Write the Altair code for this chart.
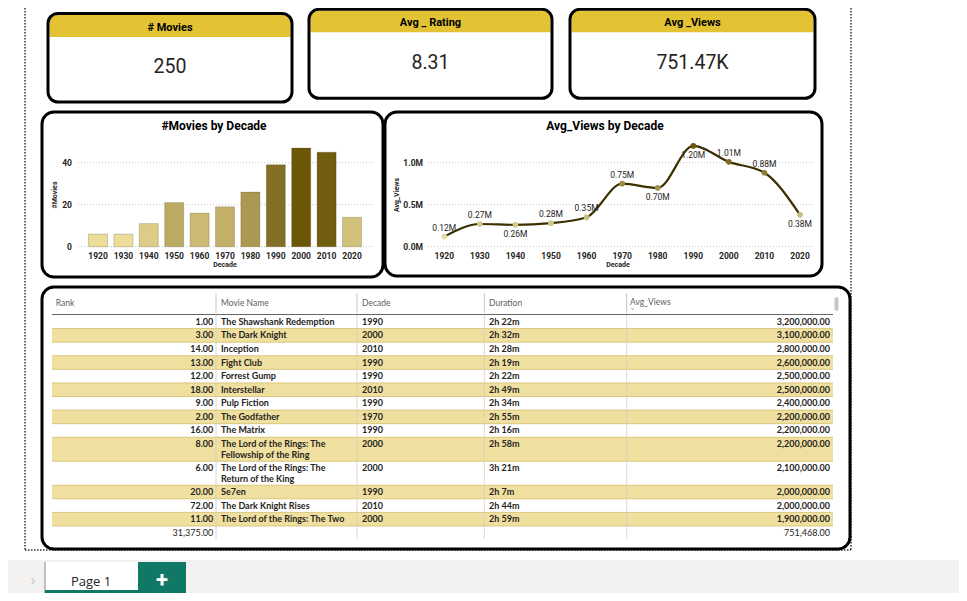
import textwrap
import altair as alt
import pandas as pd

# ---------------- data ----------------
decades = [1920, 1930, 1940, 1950, 1960, 1970, 1980, 1990, 2000, 2010, 2020]
movies_per_decade = [6, 6, 11, 21, 16, 19, 26, 39, 47, 45, 14]
avg_views_per_decade = [120000, 270000, 260000, 280000, 350000, 750000,
                        700000, 1200000, 1010000, 880000, 380000]
movies_ticks = [0, 20, 40]
views_ticks = [0, 500000, 1000000]
labels_below = [1940, 1980, 1990, 2020]

avg_rating = 8.31
total_rank_sum = 31375
overall_avg_views = 751468

table_rank = [1, 3, 14, 13, 12, 18, 9, 2, 16, 8, 6, 20, 72, 11]
table_name = ["The Shawshank Redemption", "The Dark Knight", "Inception", "Fight Club",
              "Forrest Gump", "Interstellar", "Pulp Fiction", "The Godfather", "The Matrix",
              "The Lord of the Rings: The Fellowship of the Ring",
              "The Lord of the Rings: The Return of the King",
              "Se7en", "The Dark Knight Rises", "The Lord of the Rings: The Two"]
table_decade = [1990, 2000, 2010, 1990, 1990, 2010, 1990, 1970, 1990, 2000, 2000, 1990, 2010, 2000]
table_duration = ["2h 22m", "2h 32m", "2h 28m", "2h 19m", "2h 22m", "2h 49m", "2h 34m",
                  "2h 55m", "2h 16m", "2h 58m", "3h 21m", "2h 7m", "2h 44m", "2h 59m"]
table_views = [3200000, 3100000, 2800000, 2600000, 2500000, 2500000, 2400000,
               2200000, 2200000, 2200000, 2100000, 2000000, 2000000, 1900000]

# ---------------- styles ----------------
F_DIN = "Roboto"
F_TAB = "Lato"
GOLD = "#E3C334"
INK = "#252423"
dummy = pd.DataFrame({"d": [0]})


def box(x, x2, y, y2, **kw):
    return alt.Chart(dummy).mark_rect(**kw).encode(
        x=alt.value(x), x2=alt.value(x2), y=alt.value(y), y2=alt.value(y2))


def label(x, y, text, **kw):
    return alt.Chart(dummy).mark_text(text=text, **kw).encode(x=alt.value(x), y=alt.value(y))


def hline(x, x2, y, **kw):
    return alt.Chart(dummy).mark_rule(**kw).encode(x=alt.value(x), x2=alt.value(x2), y=alt.value(y))


def vline(x, y, y2, **kw):
    return alt.Chart(dummy).mark_rule(**kw).encode(x=alt.value(x), y=alt.value(y), y2=alt.value(y2))


layers = []

# page dotted border
dot = dict(color="#333333", strokeWidth=1.5, strokeDash=[1.5, 1.5])
layers += [vline(17, 0, 542, **dot), vline(843, 0, 542, **dot), hline(17, 843, 542, **dot)]

# ---------------- KPI cards ----------------
cards = [
    (40, 284, 5.5, 94, 29, "# Movies", str(sum(movies_per_decade)), 19.5, 59),
    (301, 544, 1.3, 90.3, 24.3, "Avg _ Rating", f"{avg_rating:.2f}", 15.3, 54.7),
    (562, 807, 1.3, 90.3, 24.3, "Avg _Views", f"{overall_avg_views / 1000:.2f}K", 15.3, 54.7),
]
for x0, x1, y0, y1, yb, title, value, ty, vy in cards:
    cx = (x0 + x1) / 2
    layers.append(box(x0 + 1.5, x1 - 1.5, y0 + 1.5, yb, color=GOLD,
                      cornerRadiusTopLeft=8, cornerRadiusTopRight=8))
    layers.append(box(x0, x1, y0, y1, fillOpacity=0, stroke="black", strokeWidth=3, cornerRadius=10))
    layers.append(label(cx, ty, title, font=F_DIN, fontSize=11, fontWeight="bold", color="black",
                        baseline="middle"))
    layers.append(label(cx, vy, value, font=F_DIN, fontSize=19.5, color=INK, baseline="middle"))

# ---------------- panels ----------------
panel = dict(fillOpacity=0, stroke="black", strokeWidth=3, cornerRadius=12)
layers += [box(34, 375, 104, 269, **panel), box(377, 814, 104, 268, **panel),
           box(34, 842, 279, 541, **panel)]

tick_style = dict(font=F_DIN, fontSize=8.5, fontWeight="bold", color=INK)
atitle_style = dict(font=F_DIN, fontSize=7, fontWeight="bold", color=INK)
grid_style = dict(color="#C8C6C4", strokeDash=[1, 2], strokeWidth=1)

# ---------------- bar chart ----------------
bar_df = pd.DataFrame({"decade": decades, "movies": movies_per_decade})
bar_ticks = pd.DataFrame({"v": movies_ticks})
xbar = alt.Scale(type="band", range=[77.3, 356.7], paddingInner=0.25, paddingOuter=0.125)
ybar = alt.Scale(domain=[0, 40], range=[238.7, 154.7], nice=False)

bar_grid = alt.Chart(bar_ticks).mark_rule(**grid_style).encode(
    y=alt.Y("v:Q", scale=ybar, axis=None), x=alt.value(70), x2=alt.value(367))
bar_ylab = alt.Chart(bar_ticks).mark_text(align="right", baseline="middle", **tick_style).encode(
    y=alt.Y("v:Q", scale=ybar, axis=None), x=alt.value(64), text="v:Q")
bars = alt.Chart(bar_df).mark_bar(stroke="#3d3200", strokeWidth=0.6, strokeOpacity=0.35).encode(
    x=alt.X("decade:O", scale=xbar, axis=None),
    y=alt.Y("movies:Q", scale=ybar, axis=None),
    color=alt.Color("movies:Q", legend=None,
                    scale=alt.Scale(domain=[min(movies_per_decade), max(movies_per_decade)],
                                    range=["#ECDD98", "#6B5707"])))
bar_xlab = alt.Chart(bar_df).mark_text(baseline="middle", **tick_style).encode(
    x=alt.X("decade:O", scale=xbar, axis=None), y=alt.value(247.7), text="decade:O")
layers.append(alt.layer(bar_grid, bar_ylab, bars, bar_xlab))
layers.append(label(206, 118, "#Movies by Decade", font=F_DIN, fontSize=12, fontWeight="bold",
                    color="black", baseline="middle"))
layers.append(label(217, 257.3, "Decade", baseline="middle", **atitle_style))
layers.append(label(47, 187, "#Movies", angle=270, baseline="middle", **atitle_style))

# ---------------- line chart ----------------
line_df = pd.DataFrame({"decade": decades, "views": avg_views_per_decade})
line_df["below"] = line_df["decade"].isin(labels_below)
view_ticks = pd.DataFrame({"v": views_ticks})
xline = alt.Scale(type="point", range=[436.3, 792], padding=0)
yline = alt.Scale(domain=[0, 1000000], range=[238.7, 154.7], nice=False)

line_grid = alt.Chart(view_ticks).mark_rule(**grid_style).encode(
    y=alt.Y("v:Q", scale=yline, axis=None), x=alt.value(420), x2=alt.value(807))
line_ylab = alt.Chart(view_ticks).transform_calculate(
    lab="format(datum.v / 1000000, '.1f') + 'M'").mark_text(
    align="right", baseline="middle", **tick_style).encode(
    y=alt.Y("v:Q", scale=yline, axis=None), x=alt.value(415), text="lab:N")
line = alt.Chart(line_df).mark_line(color="#3A3000", strokeWidth=2.2, interpolate="monotone").encode(
    x=alt.X("decade:O", scale=xline, axis=None), y=alt.Y("views:Q", scale=yline, axis=None))
pts = alt.Chart(line_df).mark_point(filled=True, size=32, opacity=1).encode(
    x=alt.X("decade:O", scale=xline, axis=None), y=alt.Y("views:Q", scale=yline, axis=None),
    color=alt.Color("views:Q", legend=None,
                    scale=alt.Scale(domain=[min(avg_views_per_decade), max(avg_views_per_decade)],
                                    range=["#E6DC9E", "#6B5707"])))
lab_base = alt.Chart(line_df).transform_calculate(
    lab="format(datum.views / 1000000, '.2f') + 'M'")
lab_above = lab_base.transform_filter("!datum.below").mark_text(
    dy=-9, baseline="middle", font=F_DIN, fontSize=8.5, color=INK).encode(
    x=alt.X("decade:O", scale=xline, axis=None), y=alt.Y("views:Q", scale=yline, axis=None),
    text="lab:N")
lab_below = lab_base.transform_filter("datum.below").mark_text(
    dy=9, baseline="middle", font=F_DIN, fontSize=8.5, color=INK).encode(
    x=alt.X("decade:O", scale=xline, axis=None), y=alt.Y("views:Q", scale=yline, axis=None),
    text="lab:N")
line_xlab = alt.Chart(line_df).mark_text(baseline="middle", **tick_style).encode(
    x=alt.X("decade:O", scale=xline, axis=None), y=alt.value(247.7), text="decade:O")
layers.append(alt.layer(line_grid, line_ylab, line, pts, lab_above, lab_below, line_xlab))
layers.append(label(597, 118, "Avg_Views by Decade", font=F_DIN, fontSize=12, fontWeight="bold",
                    color="black", baseline="middle"))
layers.append(label(610, 257.3, "Decade", baseline="middle", **atitle_style))
layers.append(label(388.7, 187, "Avg_Views", angle=270, baseline="middle", **atitle_style))

# ---------------- table ----------------
LINE_STEP = 0.81
wrapped = [textwrap.wrap(n, 30) for n in table_name]
heights = [1 + 0.765 * (len(w) - 1) for w in wrapped]
tops = []
acc = 0.0
for h in heights:
    tops.append(acc)
    acc += h
total_units = acc
rows = pd.DataFrame({
    "rank": table_rank, "decade": [str(d) for d in table_decade], "duration": table_duration,
    "views": table_views, "top": tops,
    "bottom": [t + h for t, h in zip(tops, heights)],
    "mid": [t + 0.5 for t in tops],
    "stripe": [i % 2 == 1 for i in range(len(table_rank))],
})
name_lines = pd.DataFrame([
    {"line": s, "y": tops[i] + 0.5 + LINE_STEP * j}
    for i, w in enumerate(wrapped) for j, s in enumerate(w)
])
totals = pd.DataFrame({"rank": [total_rank_sum], "views": [overall_avg_views],
                       "mid": [total_units + 0.5]})
ytab = alt.Scale(domain=[0, total_units], range=[307, 518], nice=False)
body = dict(font=F_TAB, fontSize=9, fontWeight="bold", color=INK, baseline="middle")

stripes = alt.Chart(rows).transform_filter("datum.stripe").mark_rect(color="#F0E09F").encode(
    x=alt.value(44), x2=alt.value(825),
    y=alt.Y("top:Q", scale=ytab, axis=None), y2="bottom:Q")
stripe_top = alt.Chart(rows).transform_filter("datum.stripe").mark_rule(
    color="#D3BD6E", strokeWidth=0.8).encode(
    x=alt.value(44), x2=alt.value(825), y=alt.Y("top:Q", scale=ytab, axis=None))
stripe_bot = alt.Chart(rows).transform_filter("datum.stripe").mark_rule(
    color="#D3BD6E", strokeWidth=0.8).encode(
    x=alt.value(44), x2=alt.value(825), y=alt.Y("bottom:Q", scale=ytab, axis=None))
t_rank = alt.Chart(rows).mark_text(align="right", **body).encode(
    x=alt.value(205.3), y=alt.Y("mid:Q", scale=ytab, axis=None),
    text=alt.Text("rank:Q", format=",.2f"))
t_name = alt.Chart(name_lines).mark_text(align="left", **body).encode(
    x=alt.value(213), y=alt.Y("y:Q", scale=ytab, axis=None), text="line:N")
t_dec = alt.Chart(rows).mark_text(align="left", **body).encode(
    x=alt.value(354), y=alt.Y("mid:Q", scale=ytab, axis=None), text="decade:N")
t_dur = alt.Chart(rows).mark_text(align="left", **body).encode(
    x=alt.value(481), y=alt.Y("mid:Q", scale=ytab, axis=None), text="duration:N")
t_views = alt.Chart(rows).mark_text(align="right", **body).encode(
    x=alt.value(822), y=alt.Y("mid:Q", scale=ytab, axis=None),
    text=alt.Text("views:Q", format=",.2f"))
tot_style = dict(body, fontWeight="normal")
t_tot_rank = alt.Chart(totals).mark_text(align="right", **tot_style).encode(
    x=alt.value(205.3), y=alt.Y("mid:Q", scale=ytab, axis=None),
    text=alt.Text("rank:Q", format=",.2f"))
t_tot_views = alt.Chart(totals).mark_text(align="right", **tot_style).encode(
    x=alt.value(822), y=alt.Y("mid:Q", scale=ytab, axis=None),
    text=alt.Text("views:Q", format=",.2f"))
layers.append(alt.layer(stripes, stripe_top, stripe_bot, t_rank, t_name, t_dec, t_dur, t_views,
                        t_tot_rank, t_tot_views))

# column separators and header
for cx in [208, 349, 476.3, 618.7]:
    layers.append(vline(cx, 285, 305, color="#C8C6C4", strokeWidth=1))
    layers.append(vline(cx, 307, 531, color="#D2CEC4", strokeWidth=0.8))
layers.append(hline(44, 825, 306.5, color="#666666", strokeWidth=1.2))
head = dict(font=F_TAB, fontSize=8.5, color="#605E5C", baseline="middle", align="left")
for hx, hy, htxt in [(47.7, 295, "Rank"), (213, 295, "Movie Name"), (354, 295, "Decade"),
                     (481, 295, "Duration"), (622, 293.7, "Avg_Views")]:
    layers.append(label(hx, hy, htxt, **head))
layers.append(alt.Chart(dummy).mark_point(shape="M-1,-0.5L0,0.5L1,-0.5", size=6, color="#605E5C",
                                          strokeWidth=1).encode(x=alt.value(624.7), y=alt.value(301)))
layers.append(box(826.5, 830.5, 289, 303, color="#C8C6C4", cornerRadius=2))

# ---------------- tab bar ----------------
layers += [
    box(0, 951, 552, 585, color="#F3F2F1"),
    box(37, 130, 554, 585, color="white"),
    vline(37, 554, 585, color="#8A8886", strokeWidth=1),
    box(37, 130, 582, 585, color="#117865"),
    box(130, 178, 554, 585, color="#117865"),
    label(154, 572, "+", font=F_DIN, fontSize=22, fontWeight="bold", color="white", baseline="middle"),
    label(83, 574, "Page 1", font="Open Sans", fontSize=13, color=INK, baseline="middle"),
    label(25, 572, "›", font="Open Sans", fontSize=15, color="#C8C6C4", baseline="middle"),
]

chart = alt.layer(*layers).resolve_scale(
    x="independent", y="independent", color="independent"
).properties(
    width=951, height=585, padding=0, autosize="none", background="white"
).configure_view(strokeWidth=0)

chart.save("out.html", embed_options={"renderer": "svg", "actions": False})
